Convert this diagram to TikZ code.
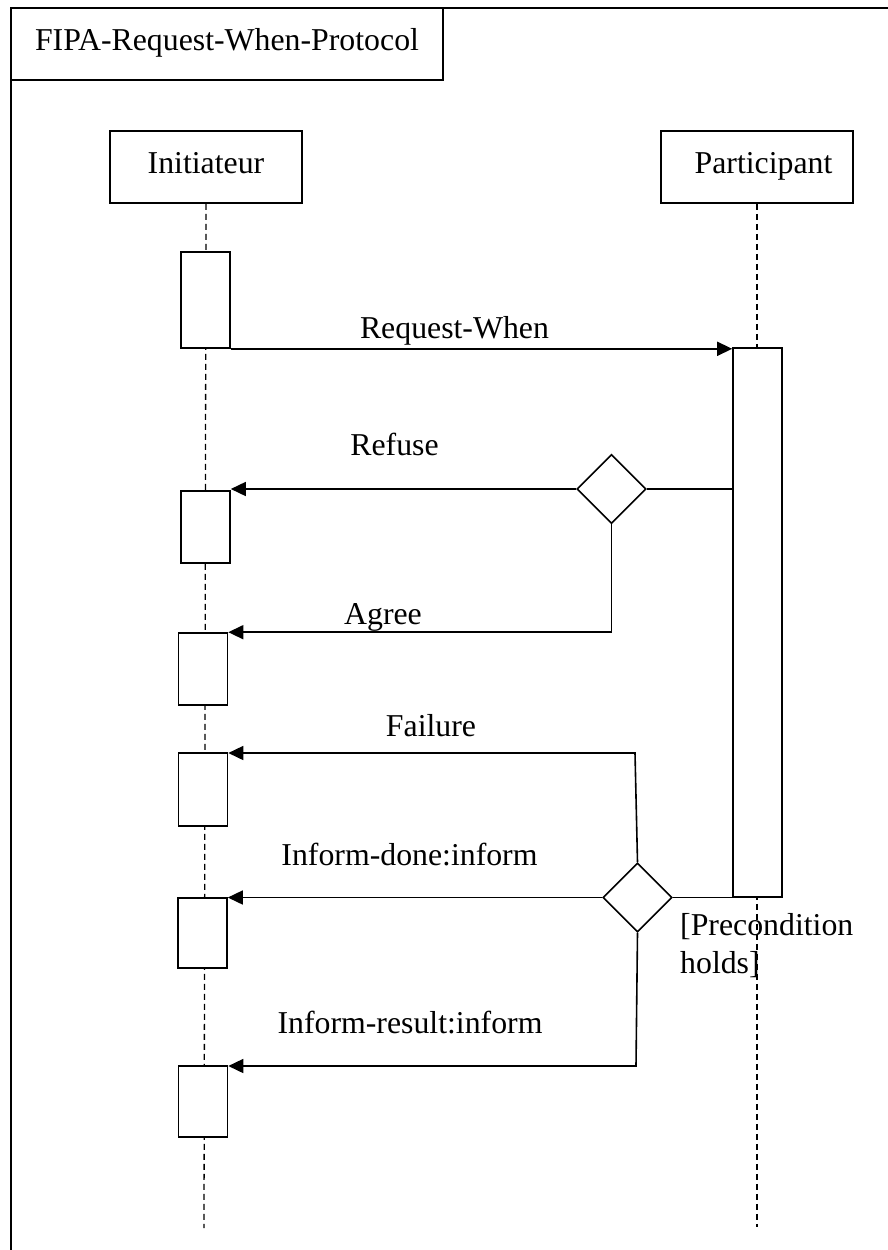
\documentclass[tikz,border=0pt]{standalone}
\usepackage{fontspec}
\setmainfont{Liberation Serif}
\usetikzlibrary{arrows.meta,shapes.geometric}
\begin{document}
\begin{tikzpicture}[x=1pt,y=-1pt,
  every node/.style={font=\fontsize{31.8}{38.5}\selectfont},
  box/.style={draw, line width=1.6pt, rectangle, text height=21pt, text depth=9pt, inner sep=0pt},
  actor/.style={box, minimum width=192pt, minimum height=72pt},
  act/.style={draw, line width=1.6pt, fill=white, rectangle, minimum width=49pt, inner sep=0pt},
  choice/.style={draw, line width=1.6pt, fill=white, diamond, minimum size=69pt, inner sep=0pt},
  life/.style={line width=1.3pt, dash pattern=on 6pt off 4pt},
  msg/.style={line width=1.6pt, -{Triangle[length=15pt,width=14pt]}},
  wire/.style={line width=1.6pt},
  lbl/.style={anchor=base, inner sep=0pt}]
\useasboundingbox (0,0) rectangle (888,1250);

% outer frame and title tab
\draw[line width=1.6pt] (11,1250) -- (11,8) -- (888,8);
\node[box, minimum width=432pt, minimum height=72pt] (title) at (227,44) {FIPA-Request-When-Protocol};

% lifeline heads
\node[actor] (ini) at (206,167) {Initiateur};
\node[actor] (par) at (757,167) {\hspace*{13pt}Participant};

% lifelines
\coordinate (iend) at (204,1228);
\coordinate (pend) at (757,1227);
\draw[life] (ini.south) -- (iend);
\draw[life] (par.south) -- (pend);

% activation bars
\node[act, minimum height=96pt] (a1) at (205.5,300) {};
\node[act, minimum height=72pt] (a2) at (205.5,527) {};
\node[act, minimum height=72pt] (a3) at (203,669) {};
\node[act, minimum height=73pt] (a4) at (203,789.5) {};
\node[act, minimum height=70pt] (a5) at (202.5,933) {};
\node[act, minimum height=71pt] (a6) at (203,1101.5) {};
\node[act, minimum height=549pt] (p1) at (757.5,622.5) {};

% decision points
\node[choice] (d1) at (611.5,489) {};
\node[choice] (d2) at (637.5,897.5) {};

% messages
\draw[msg] (a1.south east) -- (a1.south east -| p1.west);
\draw[msg] (d1.west) -- (d1.west -| a2.east);
\draw[wire] (d1.east) -- (d1.east -| p1.west);
\draw[msg] (d1.south) |- (a3.north east);
\coordinate (fj) at (635,753);
\draw[msg] (d2.north) -- (fj) -- (fj -| a4.east);
\draw[msg] (d2.west) -- (d2.west -| a5.east);
\draw[wire] (d2.east) -- (d2.east -| p1.west);
\coordinate (rj) at (636,1066);
\draw[msg] (d2.south) -- (rj) -- (rj -| a6.east);

% message labels
\node[lbl] (lreq) at (454.5,338) {Request-When};
\node[lbl] (lref) at (394.5,455) {Refuse};
\node[lbl] (lagr) at (383,624) {Agree};
\node[lbl] (lfai) at (431,736) {Failure};
\node[lbl] (ldon) at (409.5,865) {Inform-done:inform};
\node[lbl] (lres) at (410,1033) {Inform-result:inform};
% guard text; base anchor sits on the last line
\node[anchor=base west, align=left, inner sep=0pt] (pre) at (680,973.5) {[Precondition\\holds]};
\end{tikzpicture}
\end{document}
